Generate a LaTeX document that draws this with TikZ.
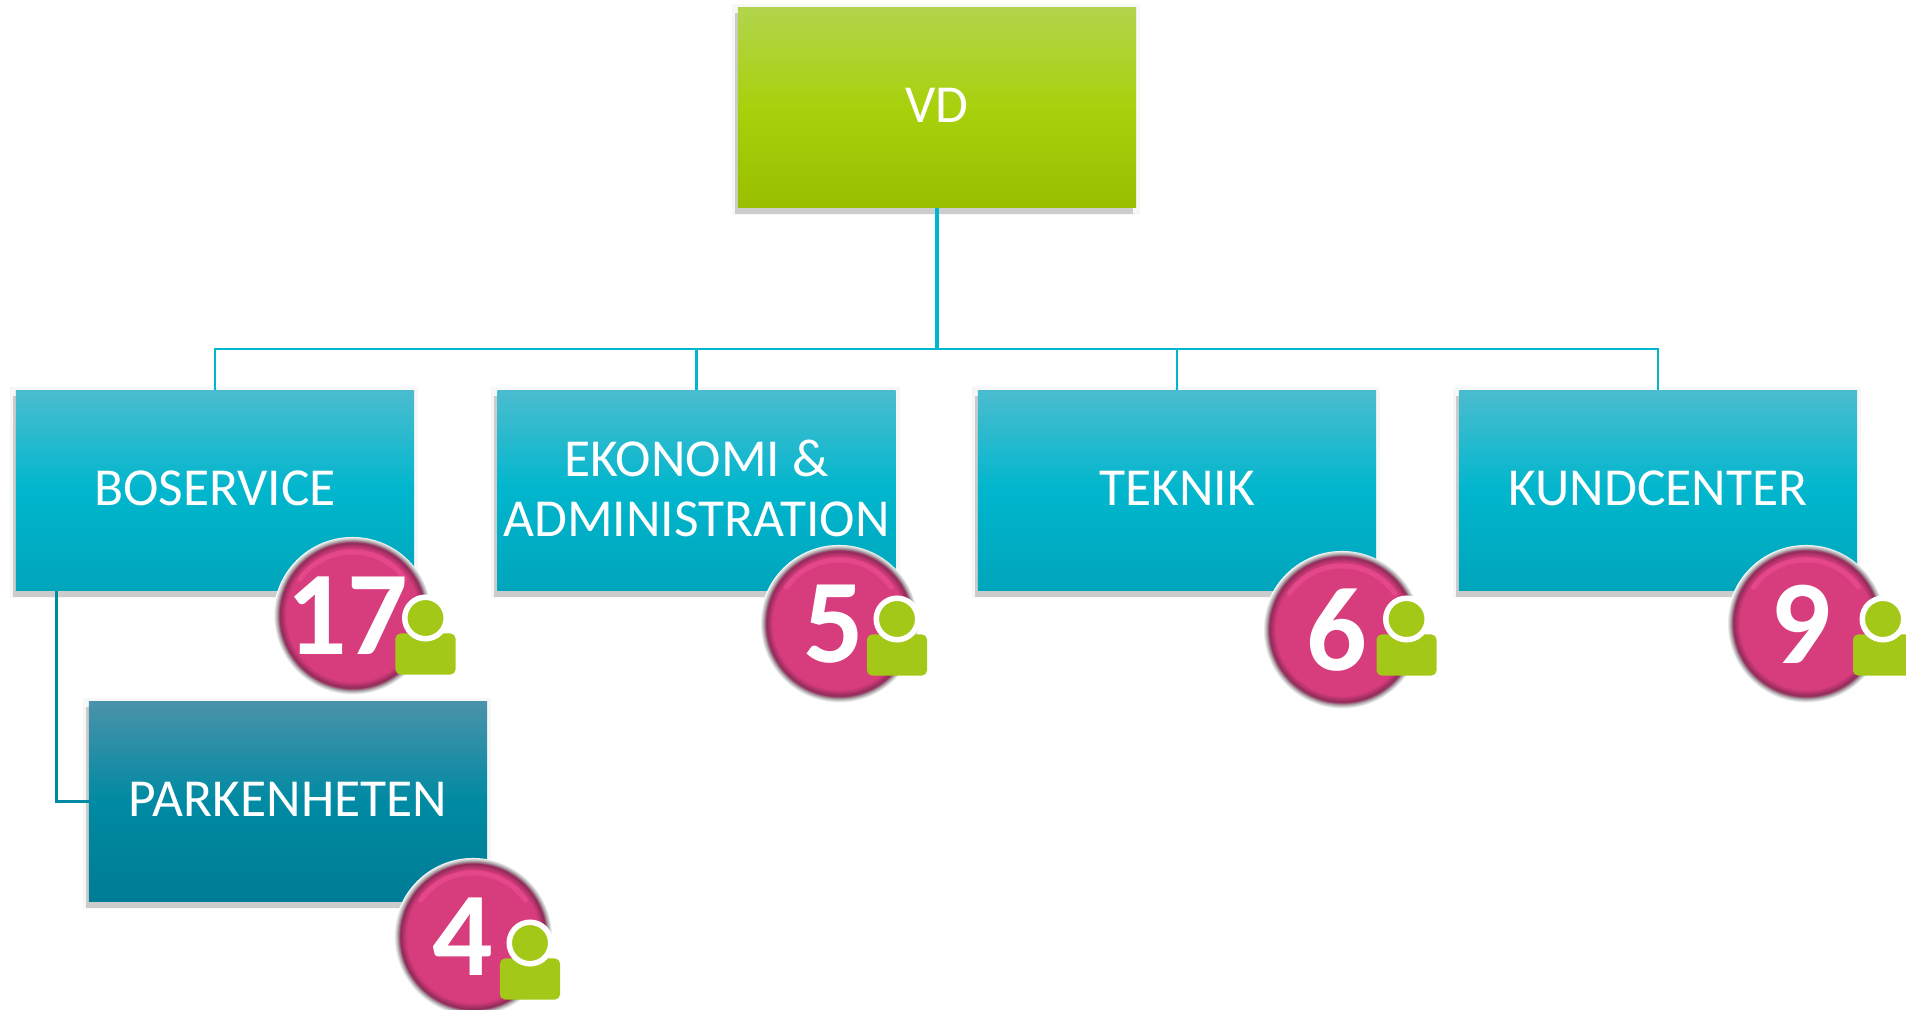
\documentclass[tikz,border=0pt]{standalone}
\usepackage{fontspec}
\setmainfont{Carlito}
\usetikzlibrary{calc,shadows}

\definecolor{vdtop}{HTML}{B2D44C}
\definecolor{vdmid}{HTML}{A8D10C}
\definecolor{vdbot}{HTML}{99BF00}
\definecolor{deptop}{HTML}{4BBCCF}
\definecolor{depmid}{HTML}{00B6CD}
\definecolor{depbot}{HTML}{00A5BB}
\definecolor{subtop}{HTML}{4A92A9}
\definecolor{submid}{HTML}{008AA3}
\definecolor{subbot}{HTML}{007C96}
\definecolor{badgepink}{HTML}{D73C7C}
\definecolor{badgelight}{HTML}{EC4C92}
\definecolor{badgedark}{HTML}{8F2A58}
\definecolor{persongreen}{HTML}{A3C817}

\pgfdeclareradialshading{badge rim}{\pgfpoint{0bp}{0.4bp}}{%
  color(0bp)=(badgepink);
  color(21bp)=(badgepink);
  color(23bp)=(badgedark);
  color(24bp)=(black!30!white);
  color(25bp)=(white);
  color(50bp)=(white)}

\tikzset{
  org box/.style={rectangle,minimum width=3.98cm,minimum height=2cm,inner sep=0pt,
    outer sep=0pt,align=center,text=white,font=\fontsize{15.2}{17}\selectfont,text depth=0.05cm,
    general shadow={fill=black!3,draw=black!3,line width=0.1cm,shadow xshift=-0.01cm,shadow yshift=-0.02cm},
    general shadow={fill=black!20,shadow xshift=-0.03cm,shadow yshift=-0.06cm}},
  green box/.style={org box,top color=vdtop,bottom color=vdbot,middle color=vdmid},
  dept box/.style={org box,top color=deptop,bottom color=depbot,middle color=depmid},
  sub box/.style={org box,top color=subtop,bottom color=subbot,middle color=submid},
  trunk line/.style={color=depmid,line width=0.035cm},
  bus line/.style={color=depmid,line width=0.028cm},
  sub line/.style={color=submid,line width=0.028cm},
  badge/.style={circle,minimum size=1.58cm,inner sep=0pt,outer sep=0pt,shading=badge rim,
    text=white,font=\fontsize{34}{34}\selectfont\bfseries,execute at end node=\kern0.1cm,
    path picture={
      \draw[badgelight,opacity=0.7,line width=0.05cm,line cap=round]
        ($ (path picture bounding box.center) + (35:0.64cm) $) arc [start angle=35,end angle=145,radius=0.64cm];
    }},
  person body/.style={rectangle,rounded corners=0.05cm,fill=persongreen,minimum width=0.6cm,
    minimum height=0.41cm,inner sep=0pt,outer sep=0pt},
  person head/.style={circle,fill=persongreen,draw=white,line width=0.055cm,minimum size=0.415cm,
    inner sep=0pt,outer sep=0pt}
}

\begin{document}
\begin{tikzpicture}[x=0.01cm,y=-0.01cm]
  \useasboundingbox (0,0) rectangle (1906,1010);

  % boxes
  \node[green box] (box vd) at (937,107.5) {VD};
  \node[dept box] (box boservice) at (215,490.5) {BOSERVICE};
  \node[dept box] (box ekonomi) at (696.5,490.5) {EKONOMI \&\\ADMINISTRATION};
  \node[dept box] (box teknik) at (1177,490.5) {TEKNIK};
  \node[dept box] (box kundcenter) at (1658,490.5) {KUNDCENTER};
  \node[sub box] (box parkenheten) at (288,801.5) {PARKENHETEN};

  % connectors
  \coordinate (bus) at (937,349);
  \draw[trunk line] (box vd.south) -- (bus);
  \draw[bus line] (bus) -| (box boservice.north);
  \draw[bus line] (bus) -| (box ekonomi.north);
  \draw[bus line] (bus) -| (box teknik.north);
  \draw[bus line] (bus) -| (box kundcenter.north);
  \coordinate (sub start) at ($ (box boservice.south west) + (41,0) $);
  \draw[sub line] (sub start) |- (box parkenheten.west);

  % head counts
  \node[badge] (badge boservice) at (352.5,616) {17};
  \node[badge] (badge ekonomi) at (839,624) {5};
  \node[badge] (badge teknik) at (1342,630) {6};
  \node[badge] (badge kundcenter) at (1806,624) {9};
  \node[badge] (badge parkenheten) at (473,937) {4\kern0.1cm};

  % persons
  \node[person body] (body boservice) at (425.5,654) {};
  \node[person head] (head boservice) at (425.5,618) {};
  \node[person body] (body ekonomi) at (897,655) {};
  \node[person head] (head ekonomi) at (897,619) {};
  \node[person body] (body teknik) at (1406.5,655) {};
  \node[person head] (head teknik) at (1406.5,619) {};
  \node[person body] (body kundcenter) at (1883,655) {};
  \node[person head] (head kundcenter) at (1883,619) {};
  \node[person body] (body parkenheten) at (530,979) {};
  \node[person head] (head parkenheten) at (530,943) {};
\end{tikzpicture}
\end{document}
